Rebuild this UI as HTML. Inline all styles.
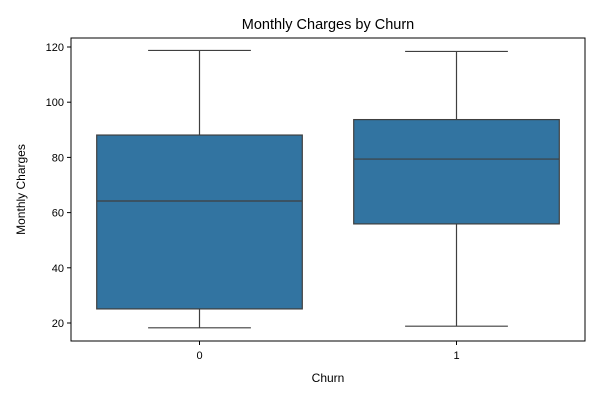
<!DOCTYPE html>
<html><head><meta charset="utf-8"><style>
body{margin:0;background:#fff;}
svg{display:block;font-family:"Liberation Sans","DejaVu Sans",sans-serif;}
</style></head><body>
<svg id="chart" width="600" height="400" viewBox="0 0 600 400">
<rect x="0" y="0" width="600" height="400" fill="#fff"/>
<text x="328" y="29" text-anchor="middle" font-size="14.5" fill="#000">Monthly Charges by Churn</text>
<g id="boxes"></g>
<g id="yaxis"></g>
<g id="xaxis"></g>
<rect x="71" y="38" width="514" height="303" fill="none" stroke="#000" stroke-width="1"/>
<text x="328" y="382" text-anchor="middle" font-size="12">Churn</text>
<text transform="translate(25,189.5) rotate(-90)" text-anchor="middle" font-size="12">Monthly Charges</text>
</svg>
<script>
const categories=["0","1"];
const mins=[18.25,18.85];
const q1s=[25.1,55.9];
const medians=[64.2,79.4];
const q3s=[88.1,93.7];
const maxs=[118.75,118.4];
const yTicks=[20,40,60,80,100,120];
const NS="http://www.w3.org/2000/svg";
const L=71,R=585;
function y(v){return 323-(v-20)*2.76;}
function x(i){return L+(R-L)*(i+0.5)/categories.length;}
const band=(R-L)/categories.length;
function el(t,a,p){const e=document.createElementNS(NS,t);for(const k in a)e.setAttribute(k,a[k]);p.appendChild(e);return e;}
const boxes=document.getElementById('boxes'),ya=document.getElementById('yaxis'),xa=document.getElementById('xaxis');
categories.forEach((c,i)=>{
 const cx=x(i),w=band*0.8,cw=w/2,s={stroke:"#3f3f3f","stroke-width":1.2};
 const g=el('g',{},boxes);
 
 
 el('line',Object.assign({x1:cx,x2:cx,y1:y(maxs[i]),y2:y(q3s[i])},s),g);
 el('line',Object.assign({x1:cx,x2:cx,y1:y(q1s[i]),y2:y(mins[i])},s),g);
 el('line',Object.assign({x1:cx-cw/2,x2:cx+cw/2,y1:y(maxs[i]),y2:y(maxs[i])},s),g);
 el('line',Object.assign({x1:cx-cw/2,x2:cx+cw/2,y1:y(mins[i]),y2:y(mins[i])},s),g);
 el('rect',Object.assign({x:cx-w/2,y:y(q3s[i]),width:w,height:y(q1s[i])-y(q3s[i]),fill:"#3274a1"},s),g);
 el('line',Object.assign({x1:cx-w/2,x2:cx+w/2,y1:y(medians[i]),y2:y(medians[i])},s),g);
 el('line',{x1:cx,x2:cx,y1:341,y2:345,stroke:"#000"},xa);
 const t=el('text',{x:cx,y:359,"text-anchor":"middle","font-size":"11"},xa);
 t.textContent=c;
 
 
});
yTicks.forEach(v=>{
 el('line',{x1:67,x2:71,y1:y(v),y2:y(v),stroke:"#000"},ya);
 const t=el('text',{x:64,y:y(v)+4,"text-anchor":"end","font-size":"11"},ya);
 t.textContent=v;
 
 
});
</script>
</body></html>
